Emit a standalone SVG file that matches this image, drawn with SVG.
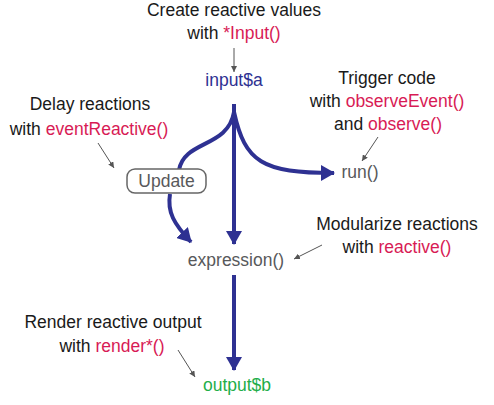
<svg xmlns="http://www.w3.org/2000/svg" width="494" height="405" viewBox="0 0 494 405">
<defs>
<style>
text{font-family:"Liberation Sans",Arial,sans-serif;font-size:17.5px;text-anchor:middle}
.k{fill:#1a1a1a}
.r{fill:#d81b55}
.g{fill:#58595b}
.b{fill:#2e3192}
.gr{fill:#1fae4a}
.thick{fill:none;stroke:#2e3192;stroke-width:4}
.thin{fill:none;stroke:#555;stroke-width:1}
</style>
<marker id="big" viewBox="0 0 14 16" refX="13" refY="8" markerWidth="14" markerHeight="16" markerUnits="userSpaceOnUse" orient="auto">
<path d="M0,0 L14,8 L0,16 z" fill="#2e3192"/>
</marker>
<marker id="small" viewBox="0 0 6 6" refX="6" refY="3" markerWidth="6" markerHeight="6" markerUnits="userSpaceOnUse" orient="auto">
<path d="M0,0 L6,3 L0,6 z" fill="#555"/>
</marker>
</defs>
<g id="connectors">
<path class="thick" d="M234,104 L234,244" marker-end="url(#big)"/>
<path class="thick" d="M234,112 C228,148 184,140 179,170"/>
<path class="thick" d="M170,194 C167,212 174,224 191,242" marker-end="url(#big)"/>
<path class="thick" d="M234,112 C245,162 262,173 334,173" marker-end="url(#big)"/>
<path class="thick" d="M234,275 L234,370" marker-end="url(#big)"/>
<path class="thin" d="M234,48 L234,72" marker-end="url(#small)"/>
<path class="thin" d="M98,143 L114,168" marker-end="url(#small)"/>
<path class="thin" d="M378,137 L362,161" marker-end="url(#small)"/>
<path class="thin" d="M322,245 L294,259" marker-end="url(#small)"/>
<path class="thin" d="M178,350 L195,377" marker-end="url(#small)"/>
</g>
<g id="note-input">
<text x="234" y="16" class="k">Create reactive values</text>
<text x="234" y="39" class="k">with <tspan class="r">*Input()</tspan></text>
</g>
<g id="input-a"><text x="234" y="86" class="b">input$a</text></g>
<g id="note-delay">
<text x="90" y="110" class="k">Delay reactions</text>
<text x="89" y="135" class="k">with <tspan class="r">eventReactive()</tspan></text>
</g>
<g id="note-trigger">
<text x="387" y="84" class="k">Trigger code</text>
<text x="387" y="107" class="k">with <tspan class="r">observeEvent()</tspan></text>
<text x="388" y="130" class="k">and <tspan class="r">observe()</tspan></text>
</g>
<g id="update">
<rect x="127" y="169" width="79" height="24" rx="8" fill="#fff" stroke="#666" stroke-width="1.5"/>
<text x="166.5" y="187" class="g">Update</text>
</g>
<g id="run"><text x="360" y="178" class="g">run()</text></g>
<g id="note-modularize">
<text x="397" y="230" class="k">Modularize reactions</text>
<text x="397" y="253" class="k">with <tspan class="r">reactive()</tspan></text>
</g>
<g id="expression"><text x="236" y="266" class="g">expression()</text></g>
<g id="note-render">
<text x="113" y="328" class="k">Render reactive output</text>
<text x="112" y="352" class="k">with <tspan class="r">render*()</tspan></text>
</g>
<g id="output-b"><text x="237" y="391" class="gr">output$b</text></g>
</svg>
